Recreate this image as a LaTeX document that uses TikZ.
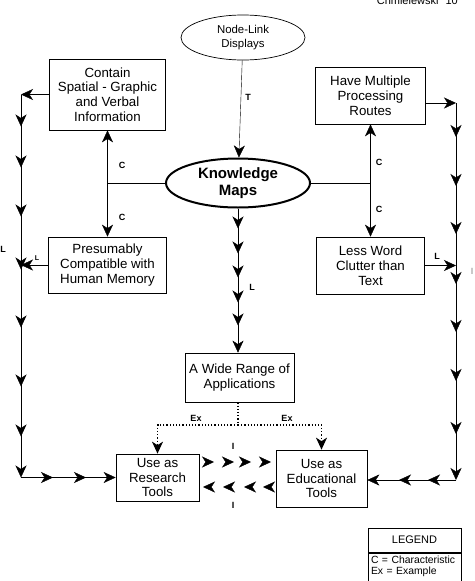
\documentclass[tikz,border=0pt]{standalone}
\usepackage{fontspec}
\setmainfont{Liberation Sans}
\usepackage{tikz}
\usetikzlibrary{arrows.meta, positioning, shapes.geometric}
\usetikzlibrary{decorations.markings}
\tikzset{>={Stealth[length=12pt,width=11pt,inset=3.5pt]},
    x=1pt, y=-1pt, line width=0.8pt,
    concept/.style={rectangle,draw,line width=0.7pt,align=center,inner sep=0pt,
        font=\fontsize{13.3}{14.8}\selectfont},
    display/.style={ellipse,draw,line width=0.7pt,align=center,inner sep=0pt,
        font=\fontsize{11.4}{13.3}\selectfont},
    mapnode/.style={ellipse,draw,line width=2pt,align=center,inner sep=0pt,
        font=\fontsize{15}{17.7}\selectfont\bfseries},
    linklabel/.style={font=\fontsize{9}{10}\selectfont\bfseries,inner sep=0pt},
    ah/.style={postaction={decorate,decoration={markings,mark=at position #1 with {\arrow{>}}}}},
    example/.style={dotted,line width=1.2pt}}
\begin{document}
\begin{tikzpicture}
\useasboundingbox (0,0) rectangle (474,581);
\node[anchor=base east,inner sep=0pt,font=\fontsize{11}{12}\selectfont] (header) at (458,4) {Chmielewski\hspace{7pt}10};

\node[display, minimum width=124, minimum height=45]  (nodelink) at (243,37.5) {Node-Link\\Displays};
\node[mapnode, minimum width=144, minimum height=49]  (kmaps) at (238,183) {Knowledge\\Maps};
\node[concept, minimum width=116, minimum height=71]  (spatial) at (107.5,94.5) {Contain\\Spatial - Graphic\\and Verbal\\Information};
\node[concept, minimum width=110, minimum height=57]  (routes) at (370.5,95.5) {Have Multiple\\Processing\\Routes};
\node[concept, minimum width=118, minimum height=56]  (memory) at (107.5,265) {Presumably\\Compatible with\\Human Memory};
\node[concept, minimum width=108, minimum height=57]  (clutter) at (370.5,265.5) {Less Word\\Clutter than\\Text};
\node[concept, minimum width=109, minimum height=49]  (range) at (239.5,377.5) {A Wide Range of\\Applications};
\node[concept, minimum width=83, minimum height=47]   (research) at (157.5,477.5) {Use as\\Research\\Tools};
\node[concept, minimum width=91, minimum height=57]   (educational) at (321.5,478.5) {Use as\\Educational\\Tools};

\coordinate (cl) at (kmaps.west -| spatial.south);
\coordinate (cr) at (kmaps.east -| routes.south);
\coordinate (lt) at (21,94.5);
\coordinate (lb) at (21,477.5);
\coordinate (rt) at (456,103);
\coordinate (rb) at (456,480);
\coordinate (dm) at (238,425);
\coordinate (rtop) at (199,462);
\coordinate (etop) at (276,462);
\coordinate (ebot) at (276,487);
\coordinate (rbot) at (199,487);

\draw[->] (nodelink) -- (kmaps);
\draw (kmaps.west) -- (cl);
\draw[->] (cl) -- (spatial.south);
\draw[->] (cl) -- (memory.north);
\draw (kmaps.east) -- (cr);
\draw[->] (cr) -- (routes.south);
\draw[->] (cr) -- (clutter.north);
\draw[->, ah=20pt, ah=45pt, ah=69pt, ah=94pt, ah=117pt] (kmaps.south) -- (kmaps.south |- range.north);

% left loop
\draw[->] (spatial.west) -- (lt);
\draw[->, ah=32pt, ah=73pt, ah=122pt, ah=175pt, ah=233pt, ah=292pt, ah=342pt] (lt) -- (lb);
\draw[->, ah=32pt, ah=65pt] (lb) -- (research.west);
\draw[->] (memory.west) -- (memory.west -| lt);

% right loop
\draw[->] (routes.east |- rt) -- (rt);
\draw[->, ah=34pt, ah=83pt, ah=131pt, ah=181pt, ah=229pt, ah=278pt, ah=331pt] (rt) -- (rb);
\draw[->, ah=28pt, ah=57pt] (rb) -- (educational.east |- rb);
\draw[->] (clutter.east) -- (clutter.east -| rt);

% examples
\draw[example] (range.south -| dm) -- (dm);
\draw[example, ->] (dm) -| (research.north);
\draw[example, ->] (dm) -| (educational.north);

% heads only
\path[ah=15pt, ah=35pt, ah=52pt, ah=72pt] (rtop) -- (etop);
\path[ah=13pt, ah=32pt, ah=53pt, ah=73pt] (ebot) -- (rbot);

\node[linklabel] (t) at (248,97) {T};
\node[linklabel] (c1) at (122,165) {C};
\node[linklabel] (c2) at (122,217) {C};
\node[linklabel] (c3) at (379,162) {C};
\node[linklabel] (c4) at (379,209) {C};
\node[linklabel] (l1) at (252,287) {L};
\node[linklabel] (l2) at (3,249) {L};
\node[linklabel, font=\fontsize{7}{8}\selectfont\bfseries] (l3) at (37,258) {L};
\node[linklabel] (l4) at (437,256) {L};
\node[linklabel] (ex1) at (196,418) {Ex};
\node[linklabel] (ex2) at (287,418) {Ex};
\node[linklabel] (i1) at (233,446) {I};
\node[linklabel] (i2) at (233,505) {I};
\node[linklabel, gray, font=\fontsize{9}{10}\selectfont] (i3) at (472,271) {I};

% legend
\node[draw, line width=1pt, minimum width=93, minimum height=24, inner sep=0pt,
    font=\fontsize{11}{12}\selectfont] (legend) at (414.5,540) {LEGEND};
\node[draw, line width=1pt, anchor=north west, text width=87, inner xsep=3pt, inner ysep=3pt,
    align=left, text depth=30pt, font=\fontsize{10.4}{11}\selectfont] (key) at (legend.south west)
    {C = Characteristic\\Ex = Example};
\end{tikzpicture}
\end{document}
